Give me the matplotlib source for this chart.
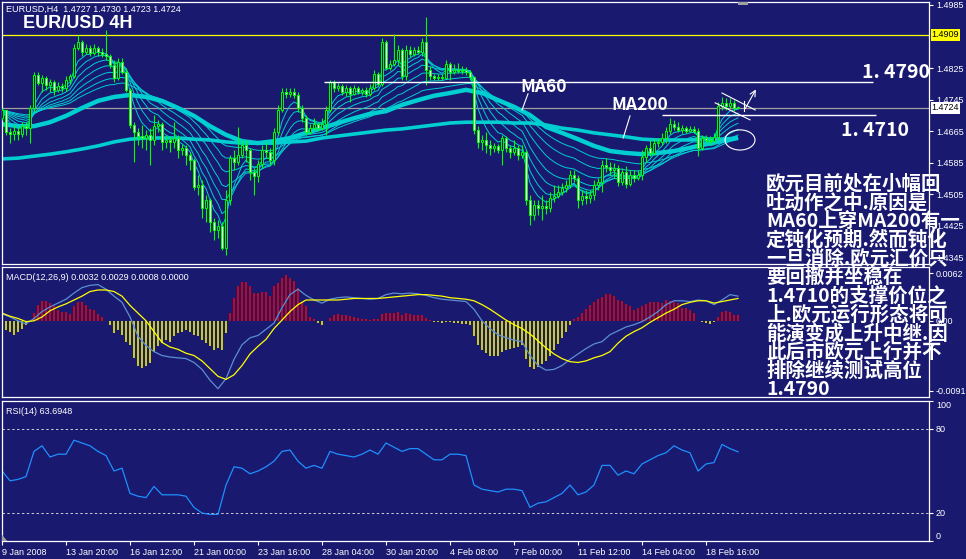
import numpy as np
import pandas as pd
import matplotlib.pyplot as plt
from matplotlib.patches import Ellipse, Polygon, Rectangle

plt.rcParams['font.family'] = ['Liberation Sans', 'Noto Sans CJK SC']

NAVY = '#191970'
LIME = '#00ff00'
CYAN = '#00ced1'

# ---- EURUSD H4 candles, one per bar (bar 0 = 9 Jan 2008 00:00) ----
opens = [1.4698, 1.4719, 1.4663, 1.4658, 1.4666, 1.4658, 1.4678, 1.4673, 1.4724, 1.4808,
         1.4787, 1.4800, 1.4782, 1.4790, 1.4770, 1.4780, 1.4775, 1.4795, 1.4805, 1.4876,
         1.4891, 1.4866, 1.4876, 1.4863, 1.4876, 1.4866, 1.4861, 1.4856, 1.4833, 1.4800,
         1.4841, 1.4815, 1.4770, 1.4681, 1.4663, 1.4653, 1.4648, 1.4656, 1.4643, 1.4678,
         1.4683, 1.4638, 1.4643, 1.4638, 1.4648, 1.4618, 1.4623, 1.4605, 1.4592, 1.4524,
         1.4529, 1.4471, 1.4491, 1.4435, 1.4415, 1.4425, 1.4369, 1.4491, 1.4597, 1.4587,
         1.4605, 1.4630, 1.4618, 1.4562, 1.4552, 1.4582, 1.4618, 1.4613, 1.4592, 1.4663,
         1.4719, 1.4765, 1.4760, 1.4765, 1.4757, 1.4724, 1.4698, 1.4663, 1.4673, 1.4683,
         1.4673, 1.4683, 1.4719, 1.4790, 1.4775, 1.4780, 1.4765, 1.4775, 1.4760, 1.4775,
         1.4765, 1.4770, 1.4760, 1.4775, 1.4810, 1.4785, 1.4891, 1.4825, 1.4836, 1.4846,
         1.4871, 1.4805, 1.4871, 1.4861, 1.4871, 1.4866, 1.4891, 1.4820, 1.4805, 1.4800,
         1.4803, 1.4800, 1.4836, 1.4815, 1.4820, 1.4818, 1.4820, 1.4815, 1.4803, 1.4668,
         1.4638, 1.4643, 1.4630, 1.4623, 1.4628, 1.4618, 1.4648, 1.4623, 1.4613, 1.4623,
         1.4605, 1.4613, 1.4491, 1.4453, 1.4478, 1.4471, 1.4476, 1.4471, 1.4496, 1.4501,
         1.4511, 1.4521, 1.4529, 1.4554, 1.4547, 1.4491, 1.4501, 1.4496, 1.4504, 1.4529,
         1.4537, 1.4580, 1.4575, 1.4567, 1.4572, 1.4537, 1.4562, 1.4532, 1.4554, 1.4547,
         1.4554, 1.4600, 1.4623, 1.4610, 1.4635, 1.4638, 1.4648, 1.4666, 1.4683, 1.4676,
         1.4668, 1.4673, 1.4666, 1.4671, 1.4666, 1.4623, 1.4648, 1.4643, 1.4640, 1.4650,
         1.4729, 1.4737, 1.4729, 1.4737, 1.4727]
highs = [1.4724, 1.4719, 1.4673, 1.4681, 1.4676, 1.4688, 1.4688, 1.4732, 1.4815, 1.4815,
         1.4808, 1.4805, 1.4798, 1.4795, 1.4790, 1.4787, 1.4805, 1.4810, 1.4886, 1.4909,
         1.4896, 1.4886, 1.4884, 1.4886, 1.4881, 1.4876, 1.4922, 1.4861, 1.4846, 1.4851,
         1.4851, 1.4825, 1.4775, 1.4688, 1.4673, 1.4681, 1.4668, 1.4673, 1.4706, 1.4693,
         1.4688, 1.4656, 1.4653, 1.4688, 1.4656, 1.4633, 1.4630, 1.4613, 1.4597, 1.4554,
         1.4542, 1.4504, 1.4496, 1.4445, 1.4440, 1.4435, 1.4516, 1.4605, 1.4618, 1.4676,
         1.4643, 1.4643, 1.4623, 1.4572, 1.4592, 1.4630, 1.4638, 1.4623, 1.4673, 1.4732,
         1.4775, 1.4775, 1.4775, 1.4775, 1.4765, 1.4732, 1.4706, 1.4683, 1.4698, 1.4688,
         1.4698, 1.4729, 1.4795, 1.4795, 1.4787, 1.4785, 1.4782, 1.4780, 1.4782, 1.4780,
         1.4775, 1.4777, 1.4785, 1.4820, 1.4815, 1.4901, 1.4896, 1.4846, 1.4912, 1.4884,
         1.4876, 1.4884, 1.4881, 1.4879, 1.4881, 1.4901, 1.4955, 1.4830, 1.4810, 1.4810,
         1.4810, 1.4846, 1.4841, 1.4836, 1.4838, 1.4830, 1.4828, 1.4820, 1.4805, 1.4678,
         1.4656, 1.4663, 1.4643, 1.4635, 1.4633, 1.4656, 1.4653, 1.4630, 1.4643, 1.4630,
         1.4630, 1.4618, 1.4504, 1.4491, 1.4491, 1.4504, 1.4491, 1.4511, 1.4529, 1.4529,
         1.4534, 1.4542, 1.4567, 1.4567, 1.4554, 1.4516, 1.4516, 1.4516, 1.4542, 1.4547,
         1.4592, 1.4597, 1.4587, 1.4585, 1.4580, 1.4572, 1.4577, 1.4567, 1.4567, 1.4567,
         1.4618, 1.4630, 1.4643, 1.4648, 1.4648, 1.4661, 1.4676, 1.4698, 1.4693, 1.4688,
         1.4681, 1.4678, 1.4678, 1.4678, 1.4673, 1.4656, 1.4656, 1.4653, 1.4661, 1.4739,
         1.4752, 1.4750, 1.4750, 1.4744, 1.4730]
lows = [1.4693, 1.4656, 1.4635, 1.4643, 1.4643, 1.4650, 1.4656, 1.4635, 1.4714, 1.4782,
        1.4765, 1.4770, 1.4765, 1.4757, 1.4765, 1.4765, 1.4767, 1.4785, 1.4800, 1.4871,
        1.4856, 1.4861, 1.4856, 1.4858, 1.4856, 1.4853, 1.4846, 1.4825, 1.4790, 1.4795,
        1.4810, 1.4765, 1.4673, 1.4587, 1.4630, 1.4623, 1.4618, 1.4580, 1.4630, 1.4663,
        1.4618, 1.4623, 1.4613, 1.4623, 1.4597, 1.4605, 1.4580, 1.4567, 1.4516, 1.4504,
        1.4445, 1.4435, 1.4410, 1.4390, 1.4395, 1.4364, 1.4352, 1.4478, 1.4567, 1.4580,
        1.4597, 1.4587, 1.4542, 1.4504, 1.4537, 1.4572, 1.4597, 1.4580, 1.4580, 1.4656,
        1.4714, 1.4750, 1.4752, 1.4750, 1.4714, 1.4688, 1.4656, 1.4658, 1.4668, 1.4666,
        1.4668, 1.4656, 1.4714, 1.4765, 1.4767, 1.4757, 1.4755, 1.4739, 1.4757, 1.4760,
        1.4757, 1.4752, 1.4755, 1.4770, 1.4780, 1.4780, 1.4820, 1.4820, 1.4830, 1.4833,
        1.4795, 1.4795, 1.4853, 1.4856, 1.4861, 1.4856, 1.4782, 1.4795, 1.4795, 1.4795,
        1.4795, 1.4800, 1.4795, 1.4810, 1.4813, 1.4810, 1.4808, 1.4795, 1.4658, 1.4623,
        1.4618, 1.4610, 1.4605, 1.4613, 1.4610, 1.4580, 1.4613, 1.4597, 1.4605, 1.4592,
        1.4597, 1.4478, 1.4428, 1.4440, 1.4453, 1.4440, 1.4455, 1.4461, 1.4486, 1.4496,
        1.4504, 1.4511, 1.4521, 1.4537, 1.4471, 1.4478, 1.4481, 1.4483, 1.4491, 1.4516,
        1.4511, 1.4562, 1.4554, 1.4547, 1.4526, 1.4529, 1.4521, 1.4526, 1.4537, 1.4542,
        1.4542, 1.4587, 1.4602, 1.4605, 1.4625, 1.4630, 1.4635, 1.4658, 1.4668, 1.4663,
        1.4661, 1.4661, 1.4663, 1.4661, 1.4602, 1.4618, 1.4635, 1.4630, 1.4638, 1.4643,
        1.4719, 1.4719, 1.4724, 1.4716, 1.4723]
closes = [1.4719, 1.4663, 1.4658, 1.4666, 1.4658, 1.4678, 1.4673, 1.4724, 1.4808, 1.4787,
          1.4800, 1.4782, 1.4790, 1.4770, 1.4780, 1.4775, 1.4795, 1.4805, 1.4876, 1.4891,
          1.4866, 1.4876, 1.4863, 1.4876, 1.4866, 1.4861, 1.4856, 1.4833, 1.4800, 1.4841,
          1.4815, 1.4770, 1.4681, 1.4663, 1.4653, 1.4648, 1.4656, 1.4643, 1.4678, 1.4683,
          1.4638, 1.4643, 1.4638, 1.4648, 1.4618, 1.4623, 1.4605, 1.4592, 1.4524, 1.4529,
          1.4471, 1.4491, 1.4435, 1.4415, 1.4425, 1.4369, 1.4491, 1.4597, 1.4587, 1.4605,
          1.4630, 1.4618, 1.4562, 1.4552, 1.4582, 1.4618, 1.4613, 1.4592, 1.4663, 1.4719,
          1.4765, 1.4760, 1.4765, 1.4757, 1.4724, 1.4698, 1.4663, 1.4673, 1.4683, 1.4673,
          1.4683, 1.4719, 1.4790, 1.4775, 1.4780, 1.4765, 1.4775, 1.4760, 1.4775, 1.4765,
          1.4770, 1.4760, 1.4775, 1.4810, 1.4785, 1.4891, 1.4825, 1.4836, 1.4846, 1.4871,
          1.4805, 1.4871, 1.4861, 1.4871, 1.4866, 1.4891, 1.4820, 1.4805, 1.4800, 1.4803,
          1.4800, 1.4836, 1.4815, 1.4820, 1.4818, 1.4820, 1.4815, 1.4803, 1.4668, 1.4638,
          1.4643, 1.4630, 1.4623, 1.4628, 1.4618, 1.4648, 1.4623, 1.4613, 1.4623, 1.4605,
          1.4613, 1.4491, 1.4453, 1.4478, 1.4471, 1.4476, 1.4471, 1.4496, 1.4501, 1.4511,
          1.4521, 1.4529, 1.4554, 1.4547, 1.4491, 1.4501, 1.4496, 1.4504, 1.4529, 1.4537,
          1.4580, 1.4575, 1.4567, 1.4572, 1.4537, 1.4562, 1.4532, 1.4554, 1.4547, 1.4554,
          1.4600, 1.4623, 1.4610, 1.4635, 1.4638, 1.4648, 1.4666, 1.4683, 1.4676, 1.4668,
          1.4673, 1.4666, 1.4671, 1.4666, 1.4623, 1.4648, 1.4643, 1.4640, 1.4650, 1.4729,
          1.4737, 1.4729, 1.4737, 1.4724, 1.4724]

# ---- moving averages read every 4 bars ----
ma60 = [1.4683, 1.4678, 1.4678, 1.4688, 1.4704, 1.4724, 1.4742, 1.4752, 1.4757, 1.4752,
        1.4742, 1.4724, 1.4704, 1.4678, 1.4656, 1.4640, 1.4635, 1.4640, 1.4648, 1.4661,
        1.4673, 1.4686, 1.4698, 1.4709, 1.4716, 1.4732, 1.4744, 1.4755, 1.4762, 1.4770,
        1.4762, 1.4744, 1.4727, 1.4706, 1.4676, 1.4661, 1.4645, 1.4628, 1.4615, 1.4610,
        1.4607, 1.4610, 1.4615, 1.4623, 1.4633, 1.4640, 1.4648]
ma200 = [1.4595, 1.4597, 1.4602, 1.4607, 1.4613, 1.4620, 1.4628, 1.4638, 1.4645, 1.4648,
         1.4648, 1.4648, 1.4645, 1.4643, 1.4638, 1.4635, 1.4635, 1.4635, 1.4638, 1.4640,
         1.4648, 1.4653, 1.4658, 1.4663, 1.4668, 1.4671, 1.4676, 1.4681, 1.4686, 1.4688,
         1.4688, 1.4688, 1.4686, 1.4686, 1.4681, 1.4673, 1.4668, 1.4661, 1.4656, 1.4651,
         1.4645, 1.4643, 1.4643, 1.4643, 1.4645, 1.4645, 1.4648]
ribbon_spans = [5, 8, 12, 17, 24, 33, 45]

# ---- MACD(12,26,9): lines read every 2 bars, histogram every bar ----
macd_main = [0.0009, 0.0005, 0.0000, -0.0004, 0.0003, 0.0012, 0.0018, 0.0023, 0.0028, 0.0036,
             0.0043, 0.0046, 0.0047, 0.0041, 0.0032, 0.0024, 0.0005, -0.0020, -0.0032, -0.0040,
             -0.0045, -0.0047, -0.0048, -0.0049, -0.0054, -0.0063, -0.0077, -0.0088, -0.0075, -0.0050,
             -0.0031, -0.0022, -0.0019, -0.0011, -0.0003, 0.0017, 0.0034, 0.0041, 0.0033, 0.0027,
             0.0023, 0.0028, 0.0030, 0.0031, 0.0030, 0.0029, 0.0028, 0.0029, 0.0034, 0.0036,
             0.0035, 0.0036, 0.0035, 0.0033, 0.0030, 0.0028, 0.0027, 0.0026, 0.0025, 0.0015,
             0.0000, -0.0010, -0.0018, -0.0022, -0.0025, -0.0027, -0.0045, -0.0058, -0.0064, -0.0063,
             -0.0058, -0.0050, -0.0043, -0.0036, -0.0030, -0.0027, -0.0018, -0.0013, -0.0008, -0.0005,
             -0.0001, 0.0005, 0.0012, 0.0021, 0.0026, 0.0026, 0.0025, 0.0027, 0.0026, 0.0021,
             0.0027, 0.0034, 0.0032]
macd_signal = [0.0010, 0.0006, 0.0003, -0.0001, 0.0000, 0.0005, 0.0013, 0.0018, 0.0022, 0.0027,
               0.0032, 0.0038, 0.0040, 0.0040, 0.0038, 0.0032, 0.0020, 0.0010, 0.0000, -0.0014,
               -0.0028, -0.0034, -0.0037, -0.0042, -0.0045, -0.0052, -0.0062, -0.0072, -0.0076, -0.0070,
               -0.0058, -0.0043, -0.0033, -0.0024, -0.0010, 0.0001, 0.0012, 0.0021, 0.0027, 0.0027,
               0.0027, 0.0027, 0.0027, 0.0028, 0.0029, 0.0029, 0.0029, 0.0029, 0.0030, 0.0031,
               0.0032, 0.0033, 0.0034, 0.0034, 0.0033, 0.0032, 0.0030, 0.0029, 0.0028, 0.0026,
               0.0021, 0.0015, 0.0008, 0.0001, -0.0005, -0.0010, -0.0017, -0.0026, -0.0035, -0.0043,
               -0.0049, -0.0053, -0.0054, -0.0052, -0.0048, -0.0045, -0.0040, -0.0029, -0.0020, -0.0014,
               -0.0009, -0.0002, 0.0004, 0.0010, 0.0015, 0.0021, 0.0024, 0.0026, 0.0026, 0.0023,
               0.0025, 0.0027, 0.0029]
macd_hist = [-0.0007, -0.0012, -0.0014, -0.0018, -0.0014, -0.0010, -0.0005, 0.0000, 0.0010, 0.0021,
             0.0026, 0.0026, 0.0023, 0.0019, 0.0014, 0.0012, 0.0012, 0.0009, 0.0019, 0.0025,
             0.0024, 0.0021, 0.0015, 0.0014, 0.0009, 0.0005, 0.0000, -0.0005, -0.0016, -0.0012,
             -0.0018, -0.0027, -0.0031, -0.0048, -0.0059, -0.0061, -0.0059, -0.0055, -0.0040, -0.0033,
             -0.0029, -0.0025, -0.0027, -0.0020, -0.0016, -0.0014, -0.0012, -0.0014, -0.0018, -0.0020,
             -0.0025, -0.0029, -0.0033, -0.0038, -0.0035, -0.0038, -0.0016, 0.0010, 0.0029, 0.0045,
             0.0050, 0.0050, 0.0045, 0.0036, 0.0036, 0.0037, 0.0037, 0.0032, 0.0045, 0.0049,
             0.0055, 0.0060, 0.0055, 0.0051, 0.0042, 0.0025, 0.0019, 0.0005, 0.0002, -0.0003,
             -0.0005, 0.0000, 0.0004, 0.0008, 0.0009, 0.0008, 0.0007, 0.0006, 0.0005, 0.0004,
             0.0003, 0.0002, 0.0001, 0.0003, 0.0003, 0.0009, 0.0010, 0.0010, 0.0010, 0.0011,
             0.0008, 0.0010, 0.0009, 0.0008, 0.0007, 0.0008, 0.0004, 0.0001, -0.0001, -0.0002,
             -0.0003, -0.0002, -0.0002, -0.0003, -0.0003, -0.0004, -0.0004, -0.0005, -0.0020, -0.0032,
             -0.0038, -0.0042, -0.0045, -0.0045, -0.0045, -0.0040, -0.0038, -0.0037, -0.0035, -0.0034,
             -0.0032, -0.0050, -0.0060, -0.0062, -0.0060, -0.0056, -0.0052, -0.0045, -0.0038, -0.0030,
             -0.0022, -0.0015, -0.0005, 0.0003, 0.0005, 0.0010, 0.0015, 0.0020, 0.0024, 0.0028,
             0.0031, 0.0035, 0.0035, 0.0032, 0.0027, 0.0026, 0.0022, 0.0019, 0.0014, 0.0016,
             0.0019, 0.0022, 0.0024, 0.0024, 0.0025, 0.0023, 0.0027, 0.0026, 0.0025, 0.0023,
             0.0017, 0.0016, 0.0014, 0.0010, 0.0000, -0.0002, -0.0003, -0.0004, -0.0002, 0.0005,
             0.0011, 0.0013, 0.0011, 0.0008, 0.0008]

# ---- RSI(14), read every 2 bars ----
rsi = [50, 43, 44, 46, 64, 68, 60, 62, 62, 72, 70, 68, 64, 61, 50, 52, 34, 32, 31, 39,
       33, 33, 33, 32, 24, 20, 19, 19, 40, 53, 52, 48, 50, 53, 57, 64, 65, 57, 52, 54,
       52, 64, 62, 61, 60, 62, 65, 62, 70, 67, 64, 66, 66, 62, 58, 58, 62, 62, 61, 40,
       37, 36, 35, 37, 37, 36, 24, 27, 28, 31, 34, 40, 33, 35, 40, 54, 54, 47, 50, 48,
       55, 58, 61, 63, 68, 65, 63, 50, 55, 56, 69, 66, 63.69]

x_labels = ['9 Jan 2008', '13 Jan 20:00', '16 Jan 12:00', '21 Jan 00:00', '23 Jan 16:00',
            '28 Jan 04:00', '30 Jan 20:00', '4 Feb 08:00', '7 Feb 00:00', '11 Feb 12:00',
            '14 Feb 04:00', '18 Feb 16:00']
price_ticks = [1.4985, 1.4825, 1.4745, 1.4665, 1.4585, 1.4505, 1.4425, 1.4345]
high_line = 1.4909
bid_line = 1.4724
target_level = 1.4790
support_level = 1.4706

# analyst drawings (bar index, price)
flag_upper = ([180.0, 188.3], [1.4762, 1.4719])
flag_lower = ([178.3, 187.0], [1.4737, 1.4694])
flag_side = ([185.5, 185.5], [1.4742, 1.4717])
breakout_arrow = ((185.5, 1.4717), (188.8, 1.4777))
cross_circle = (184.5, 1.4643)

note_lines = ['欧元目前处在小幅回', '吐动作之中.原因是', 'MA60上穿MA200有一',
              '定钝化预期.然而钝化', '一旦消除.欧元汇价只', '要回撤并坐稳在',
              '1.4710的支撑价位之', '上.欧元运行形态将可', '能演变成上升中继.因',
              '此后市欧元上行并不', '排除继续测试高位', '1.4790']

W, H = 966, 559


def box(left, top, right, bottom):
    return [left / W, 1 - bottom / H, (right - left) / W, (bottom - top) / H]


fig = plt.figure(figsize=(W / 100, H / 100), dpi=100, facecolor=NAVY)
ax = fig.add_axes(box(2, 2, 929, 264))
ax_macd = fig.add_axes(box(2, 267, 929, 397))
ax_rsi = fig.add_axes(box(2, 401, 929, 541))

for a in (ax, ax_macd, ax_rsi):
    a.set_facecolor(NAVY)
    for s in a.spines.values():
        s.set_color('white')
        s.set_linewidth(0.9)
    a.yaxis.tick_right()
    a.tick_params(axis='y', colors='white', labelsize=6.5, length=3, width=0.8, pad=2)
    a.tick_params(axis='x', bottom=False, labelbottom=False)
    a.set_xlim(0, 231.75)

x = np.arange(len(closes))
o = np.array(opens)
c = np.array(closes)

# ---- price panel ----
ax.set_ylim(1.43287, 1.49926)
ax.axhline(high_line, color='#ffff00', lw=0.9)
ax.axhline(bid_line, color='#a0a0a0', lw=0.9)

close_s = pd.Series(closes)
for span in ribbon_spans:
    ax.plot(x, close_s.ewm(span=span, adjust=False).mean(), color=CYAN, lw=0.7, zorder=2)
x4 = np.arange(0, len(closes), 4)
ax.plot(x4, ma200, color=CYAN, lw=2.6, zorder=2, solid_capstyle='butt')
ax.plot(x4, ma60, color=CYAN, lw=3.2, zorder=2, solid_capstyle='butt')

ax.vlines(x, lows, highs, color=LIME, lw=0.8, zorder=3)
fills = np.where(c >= o, NAVY, 'white')
ax.bar(x, c - o, bottom=o, width=0.62, color=fills, edgecolor=LIME, linewidth=0.7, zorder=4)

ax.set_yticks(price_ticks)
ax.set_yticklabels([f'{v:.4f}' for v in price_ticks])
yx = ax.get_yaxis_transform()
ax.text(1.003, high_line, f'{high_line:.4f}', transform=yx, ha='left', va='center', fontsize=6.5,
        color='black', bbox=dict(fc='#ffff00', ec='none', pad=0.8), clip_on=False)
ax.text(1.003, bid_line, f'{bid_line:.4f}', transform=yx, ha='left', va='center', fontsize=6.5,
        color='black', bbox=dict(fc='white', ec='none', pad=0.8), clip_on=False)
# chart-shift marker at the top edge
ax.add_patch(Rectangle((184.0, 0.988), 2.5, 0.012, transform=ax.get_xaxis_transform(),
                       fc='#a0a0a0', ec='none', clip_on=False, zorder=6))

# drawn levels and notes
ax.hlines(target_level, 80.5, 217.8, color='white', lw=1.0, zorder=5)
ax.hlines(support_level, 165.0, 218.5, color='white', lw=1.0, zorder=5)
ax.plot(*flag_upper, color='white', lw=0.8, zorder=5)
ax.plot(*flag_lower, color='white', lw=0.8, zorder=5)
ax.plot(*flag_side, color='white', lw=0.8, zorder=5)
ax.annotate('', xy=breakout_arrow[1], xytext=breakout_arrow[0],
            arrowprops=dict(arrowstyle='->', color='white', lw=0.8), zorder=5)
ax.add_patch(Ellipse(cross_circle, 7.5, 0.0051, fill=False, ec='white', lw=0.8, zorder=5))
ax.plot([131.5, 130.0], [1.4760, 1.4719], color='white', lw=0.8, zorder=5)
ax.plot([157.0, 155.3], [1.4704, 1.4648], color='white', lw=0.8, zorder=5)

cjk = ['Noto Sans CJK SC', 'DejaVu Sans']
bold = dict(color='white', fontweight='bold', family=cjk, zorder=10)
fig.text(520 / W, 1 - 87 / H, 'MA60', fontsize=12.5, va='center', **bold)
fig.text(611 / W, 1 - 105 / H, 'MA200', fontsize=12.5, va='center', **bold)
fig.text(862 / W, 1 - 73 / H, '1. 4790', fontsize=14, va='center', **bold)
fig.text(841 / W, 1 - 131 / H, '1. 4710', fontsize=14, va='center', **bold)
fig.text(23 / W, 1 - 24 / H, 'EUR/USD 4H', fontsize=13, va='center', color='white',
         fontweight='bold', family=['Liberation Sans'])
fig.text(6 / W, 1 - 9 / H, f'EURUSD,H4  {opens[-1]:.4f} {highs[-1]:.4f} {lows[-1]:.4f} {closes[-1]:.4f}',
         fontsize=6.5, va='center', color='white')

for k, line in enumerate(note_lines):
    fig.text(766 / W, 1 - (184 + k * 18.7) / H, line, fontsize=14, va='center', **bold)

# ---- MACD panel ----
ax_macd.set_ylim(-0.00988, 0.00698)
h = np.array(macd_hist)
ax_macd.vlines(x, 0, h, colors=np.where(h >= 0, '#ff0000', '#ffff00'), lw=1.1)
x2 = np.arange(0, len(closes), 2)
ax_macd.plot(x2, macd_main, color='#5b8fd0', lw=0.9)
ax_macd.plot(x2, macd_signal, color='#ffff00', lw=0.9)
ax_macd.set_yticks([0.0062, 0.0, -0.0091])
ax_macd.set_yticklabels(['0.0062', '0.00', '-0.0091'])
fig.text(6 / W, 1 - 277 / H, 'MACD(12,26,9) 0.0032 0.0029 0.0008 0.0000', fontsize=6.5,
         va='center', color='white')

# ---- RSI panel ----
ax_rsi.set_ylim(0, 100)
for lvl in (80, 20):
    ax_rsi.axhline(lvl, color='#d0d0d0', lw=0.7, dashes=(2.5, 2.5))
ax_rsi.plot(x2, rsi, color='#1e90ff', lw=0.9)
ax_rsi.set_yticks([100, 80, 20, 0])
ax_rsi.set_yticklabels(['100', '80', '20', '0'])
labs = ax_rsi.get_yticklabels()
labs[0].set_va('top')
labs[3].set_va('bottom')
fig.text(6 / W, 1 - 411 / H, 'RSI(14) 63.6948', fontsize=6.5, va='center', color='white')
ax_rsi.add_patch(Polygon([[0, 0], [1.3, 0], [0, 4.5]], closed=True, fc='#a0a0a0', ec='none',
                         zorder=6))

ax_rsi.set_xticks(np.arange(0, 16 * len(x_labels), 16))
ax_rsi.set_xticklabels(x_labels, ha='left')
ax_rsi.tick_params(axis='x', bottom=True, labelbottom=True, colors='white', labelsize=6.5,
                   length=3, width=0.8, pad=2)

fig.savefig('out.png', dpi=100, facecolor=NAVY)
